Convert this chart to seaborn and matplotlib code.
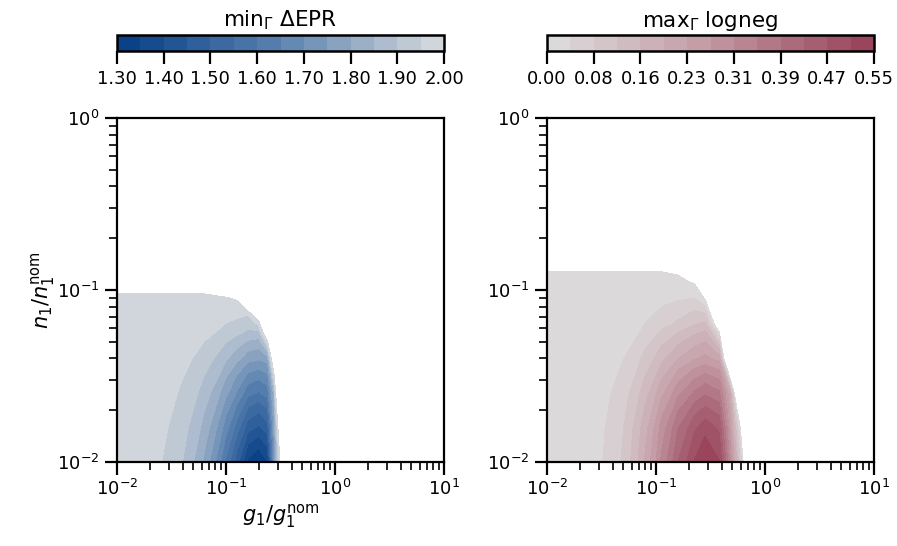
import numpy as np
import matplotlib
matplotlib.use("Agg")
import matplotlib.pyplot as plt
import seaborn as sns

# ---------------- data ----------------
# Left panel: min_Gamma Delta EPR on a (log10 g, log10 n) grid
epr_log_g = [-2.0, -1.6, -1.4, -1.2, -1.0, -0.9, -0.8, -0.7, -0.62, -0.56, -0.5, -0.4, 1.0]
epr_log_n = [-2.0, -1.8, -1.6, -1.4, -1.25, -1.15, -1.05, -0.95, -0.8, 0.0]
epr_values = [
    [1.99, 1.952, 1.90, 1.79, 1.59, 1.47, 1.34, 1.30, 1.35, 1.70, 2.027, 2.6, 3.0],
    [1.99, 1.962, 1.92, 1.832, 1.672, 1.576, 1.472, 1.44, 1.48, 1.76, 2.171, 2.6, 3.0],
    [1.99, 1.972, 1.942, 1.878, 1.762, 1.693, 1.617, 1.594, 1.623, 1.826, 2.52, 2.6, 3.0],
    [1.99, 1.983, 1.965, 1.926, 1.856, 1.814, 1.769, 1.755, 1.773, 2.162, 2.6, 2.7, 3.0],
    [1.99, 1.99, 1.983, 1.964, 1.93, 1.91, 1.888, 1.881, 2.119, 2.3, 2.6, 2.7, 3.0],
    [1.99, 1.99, 1.99, 1.983, 1.967, 1.958, 1.947, 2.053, 2.25, 2.4, 2.6, 2.7, 3.0],
    [1.99, 1.99, 1.99, 1.99, 1.995, 2.005, 2.159, 2.25, 2.35, 2.45, 2.6, 2.7, 3.0],
    [2.03, 2.03, 2.03, 2.03, 2.066, 2.1, 2.2, 2.3, 2.4, 2.5, 2.6, 2.7, 3.0],
    [2.4, 2.4, 2.4, 2.4, 2.4, 2.4, 2.4, 2.4, 2.5, 2.6, 2.7, 2.8, 3.0],
    [3.0, 3.0, 3.0, 3.0, 3.0, 3.0, 3.0, 3.0, 3.0, 3.0, 3.0, 3.0, 3.0],
]
epr_min, epr_max = 1.30, 2.00

# Right panel: max_Gamma logneg
ln_log_g = [-2.0, -1.5, -1.3, -1.1, -0.95, -0.8, -0.65, -0.55, -0.42, -0.32, -0.2, -0.1, 1.0]
ln_log_n = [-2.0, -1.8, -1.6, -1.4, -1.2, -1.05, -0.95, -0.85, -0.7, 0.0]
ln_values = [
    [0.004, 0.037, 0.085, 0.20, 0.32, 0.43, 0.51, 0.547, 0.51, 0.30, -0.002, -0.5, -0.5],
    [0.004, 0.033, 0.077, 0.18, 0.288, 0.387, 0.459, 0.492, 0.46, 0.25, -0.083, -0.5, -0.5],
    [0.004, 0.026, 0.060, 0.14, 0.224, 0.301, 0.357, 0.383, 0.36, 0.20, -0.5, -0.5, -0.5],
    [0.004, 0.017, 0.038, 0.09, 0.144, 0.194, 0.23, 0.246, 0.222, -0.333, -0.5, -0.5, -0.5],
    [0.004, 0.0074, 0.017, 0.04, 0.064, 0.086, 0.115, 0.13, -0.08, -0.4, -0.5, -0.5, -0.5],
    [0.004, 0.004, 0.0068, 0.016, 0.026, 0.034, 0.041, -0.003, -0.15, -0.4, -0.5, -0.5, -0.5],
    [0.004, 0.004, 0.004, 0.004, 0.0064, 0.0086, -0.006, -0.05, -0.2, -0.4, -0.5, -0.5, -0.5],
    [-0.0031, -0.0031, -0.0031, -0.0031, -0.0057, -0.016, -0.05, -0.1, -0.25, -0.4, -0.5, -0.5, -0.5],
    [-0.1, -0.1, -0.1, -0.1, -0.1, -0.1, -0.15, -0.2, -0.3, -0.4, -0.5, -0.5, -0.5],
    [-0.5] * 13,
]
ln_min, ln_max = 0.0, 0.547

n_levels = 15
epr_label = r"min$_\Gamma$ $\Delta$EPR"
ln_label = r"max$_\Gamma$ logneg"
x_label = r"$g_1/g_1^\mathrm{nom}$"
y_label = r"$n_1/n_1^\mathrm{nom}$"

# ---------------- style ----------------
sns.set_style("ticks")
plt.rcParams["font.family"] = ["DejaVu Sans"]
plt.rcParams["mathtext.fontset"] = "dejavusans"
plt.rcParams["font.size"] = 12
for key in ["text.color", "axes.labelcolor", "xtick.color", "ytick.color", "axes.edgecolor"]:
    plt.rcParams[key] = "black"
plt.rcParams["axes.linewidth"] = 1.6

blue_cmap = sns.blend_palette(["#033d85", "#5b82b0", "#d9dcde"], as_cmap=True)
red_cmap = sns.blend_palette(["#dedede", "#c298a3", "#973f55"], as_cmap=True)

W, H = 897, 546
fig = plt.figure(figsize=(W / 100, H / 100), dpi=100)

def box(x0, y0, x1, y1):
    return [x0 / W, 1 - y1 / H, (x1 - x0) / W, (y1 - y0) / H]

panels = [
    dict(lg=epr_log_g, ln=epr_log_n, z=epr_values, vmin=epr_min, vmax=epr_max,
         cmap=blue_cmap, label=epr_label, x0=117),
    dict(lg=ln_log_g, ln=ln_log_n, z=ln_values, vmin=ln_min, vmax=ln_max,
         cmap=red_cmap, label=ln_label, x0=547),
]

for i, p in enumerate(panels):
    ax = fig.add_axes(box(p["x0"], 118, p["x0"] + 327, 462))
    cax = fig.add_axes(box(p["x0"], 35, p["x0"] + 327, 51))
    X, Y = np.meshgrid(10.0 ** np.array(p["lg"]), 10.0 ** np.array(p["ln"]))
    Z = np.array(p["z"])
    levels = np.linspace(p["vmin"], p["vmax"], n_levels)
    cs = ax.contourf(X, Y, Z, levels=levels, cmap=p["cmap"])
    ax.set_xscale("log")
    ax.set_yscale("log")
    ax.set_xlim(1e-2, 1e1)
    ax.set_ylim(1e-2, 1e0)
    ax.tick_params(which="major", direction="out", length=9, width=1.6, labelsize=13)
    ax.tick_params(which="minor", direction="out", length=5.5, width=1.2)
    ax.set_xticks([1e-2, 1e-1, 1e0, 1e1])
    ax.set_yticks([1e-2, 1e-1, 1e0])
    for s in ax.spines.values():
        s.set_linewidth(1.6)
    if i == 0:
        ax.set_xlabel(x_label, fontsize=15, labelpad=2)
        ax.set_ylabel(y_label, fontsize=15, labelpad=0)

    cb = fig.colorbar(cs, cax=cax, orientation="horizontal")
    cb.set_ticks(levels[::2])
    cb.ax.xaxis.set_major_formatter(matplotlib.ticker.FormatStrFormatter("%.2f"))
    cb.ax.tick_params(direction="out", length=9, width=1.6, labelsize=13, pad=5)
    cb.outline.set_linewidth(1.8)
    cb.ax.set_title(p["label"], fontsize=15.5, pad=6)

fig.savefig("out.png", dpi=100)
